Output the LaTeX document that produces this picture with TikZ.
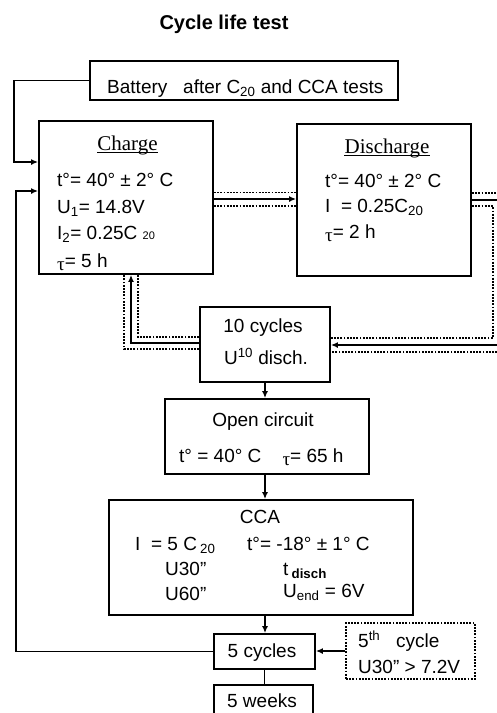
\documentclass[tikz,border=0pt]{standalone}
\usepackage{fontspec}
\setmainfont{Liberation Sans}
\newfontfamily\srf{Liberation Serif}
\usetikzlibrary{arrows.meta}
\begin{document}
\begin{tikzpicture}[x=1pt,y=-1pt,
  box/.style={draw, line width=1.8pt, inner sep=0pt},
  dbox/.style={draw, line width=1.4pt, dash pattern=on 1.8pt off 1.4pt, inner sep=0pt},
  txt/.style={inner sep=0pt, font=\fontsize{19}{22}\selectfont},
  ttl/.style={inner sep=0pt, font=\srf\fontsize{21}{24}\selectfont},
  ln/.style={line width=1.5pt},
  dt/.style={line width=1.3pt, dash pattern=on 1.8pt off 1.4pt},
  arr/.style={ln, -{Latex[length=7pt,width=6pt]}}]
\useasboundingbox (0,0) rectangle (497,713);
\clip (0,0) rectangle (497,713);

% title
\node[inner sep=0pt, font=\bfseries\fontsize{20}{24}\selectfont, anchor=base] (title) at (224,29) {Cycle life test};

% boxes
\node[box, minimum width=308pt, minimum height=39pt] (battery) at (244,80.5) {};
\node[box, minimum width=174pt, minimum height=153pt] (charge) at (126,197.5) {};
\node[box, minimum width=174pt, minimum height=152pt] (discharge) at (384,200) {};
\node[box, minimum width=130pt, minimum height=75pt] (tencyc) at (265,344.5) {};
\node[box, minimum width=204pt, minimum height=75pt] (open) at (267,436.5) {};
\node[box, minimum width=304pt, minimum height=115pt] (cca) at (261,557.5) {};
\node[box, minimum width=101pt, minimum height=35pt] (fivecyc) at (264.5,651.5) {};
\node[dbox, minimum width=129pt, minimum height=56pt] (fifth) at (410.5,651) {};
\node[box, minimum width=99pt, minimum height=50pt] (weeks) at (263.5,710) {};

% texts
\node[txt, anchor=base west] (tbat) at (107,93) {Battery\ \ \ after C\textsubscript{20} and CCA tests};

\node[ttl, anchor=base] (tch) at (127.5,150) {Charge};
\draw[line width=0.9pt] ([yshift=-2.5pt]tch.base west) -- ([yshift=-2.5pt]tch.base east);
\node[txt, anchor=base west] (ch1) at (57,186) {t°= 40° ± 2° C};
\node[txt, anchor=base west] (ch2) at (57,213) {U\textsubscript{1}= 14.8V};
\node[txt, anchor=base west] (ch3) at (57,239) {I\textsubscript{2}= 0.25C {\fontsize{11}{11}\selectfont 20}};
\node[txt, anchor=base west] (ch4) at (57,267) {\raisebox{-3pt}{\srf τ}= 5 h};

\node[ttl, anchor=base] (tdis) at (387,153) {Discharge};
\draw[line width=0.9pt] ([yshift=-2.5pt]tdis.base west) -- ([yshift=-2.5pt]tdis.base east);
\node[txt, anchor=base west] (d1) at (325,187) {t°= 40° ± 2° C};
\node[txt, anchor=base west] (d2) at (325,212) {I\ \ = 0.25C\textsubscript{20}};
\node[txt, anchor=base west] (d3) at (325,238) {\raisebox{-3pt}{\srf τ}= 2 h};

\node[txt, anchor=base] (t1) at (263,332) {10 cycles};
\node[txt, anchor=base] (t2) at (266,364) {U\textsuperscript{10}\ disch.};

\node[txt, anchor=base] (o1) at (263,426) {Open circuit};
\node[txt, anchor=base west] (o2) at (179,462) {t° = 40° C\ \ \ \ \raisebox{-3pt}{\srf τ}= 65 h};

\node[txt, anchor=base] (c0) at (260,523) {CCA};
\node[txt, anchor=base west] (c1) at (135,550) {I\ \ = 5 C\,\textsubscript{20}};
\node[txt, anchor=base west] (c2) at (247,550) {t°= -18° ± 1° C};
\node[txt, anchor=base west] (c3) at (165,575) {U30”};
\node[txt, anchor=base west] (c4) at (283,575) {t\,\textsubscript{\bfseries disch}};
\node[txt, anchor=base west] (c5) at (165,600) {U60”};
\node[txt, anchor=base west] (c6) at (283,597) {U\textsubscript{end} = 6V};

\node[txt, anchor=base] (f1) at (262,657) {5 cycles};
\node[txt, anchor=base west] (s1) at (358,647) {5\textsuperscript{th}\ \ \ cycle};
\node[txt, anchor=base west] (s2) at (358,673) {U30” > 7.2V};
\node[txt, anchor=base] (w1) at (262,707) {5 weeks};

% off-frame coordinates
\coordinate (offA) at (510,200);
\coordinate (offB) at (510,193);
\coordinate (offC) at (510,345);
\coordinate (offD) at (510,352);

% connectors
\draw[arr] (battery.west) -- ++(-75,0) |- ([yshift=35.5pt]charge.west);
\draw[arr] (fivecyc.west) -- ++(-197,0) |- ([yshift=6.5pt]charge.west);

\coordinate (cd) at ([yshift=-1.5pt]charge.east);
\draw[arr] (cd) -- (cd -| discharge.west);
\draw[dt] ([yshift=5pt]charge.east) -- ([yshift=5pt]charge.east -| discharge.west);
\draw[dt] ([yshift=-8.5pt]charge.east) -- ([yshift=-8.5pt]charge.east -| discharge.west);

\draw[ln] (discharge.east) -- (offA);
\draw[dt] ([yshift=7pt]discharge.east) -- (offB);
\draw[dt] ([yshift=-6pt]discharge.east) -| (493,338) -- ([yshift=6.5pt]tencyc.east);

\draw[arr] (offC) -- (offC -| tencyc.east);
\draw[dt] (offD) -- (offD -| tencyc.east);

\draw[dt] ([yshift=7.5pt]tencyc.west) -| ([xshift=12pt]charge.south);
\draw[arr] ([yshift=1.5pt]tencyc.west) -| ([xshift=5pt]charge.south);
\draw[dt] ([yshift=-4.5pt]tencyc.west) -| ([xshift=-2pt]charge.south);

\draw[arr] (tencyc.south) -- (tencyc.south |- open.north);
\draw[arr] ([xshift=-2pt]open.south) -- ([xshift=-2pt]open.south |- cca.north);
\draw[arr] ([xshift=4pt]cca.south) -- ([xshift=4pt]cca.south |- fivecyc.north);
\draw[arr] (fifth.west) -- (fifth.west -| fivecyc.east);
\draw[ln] (fivecyc.south) -- (fivecyc.south |- weeks.north);
\end{tikzpicture}
\end{document}
